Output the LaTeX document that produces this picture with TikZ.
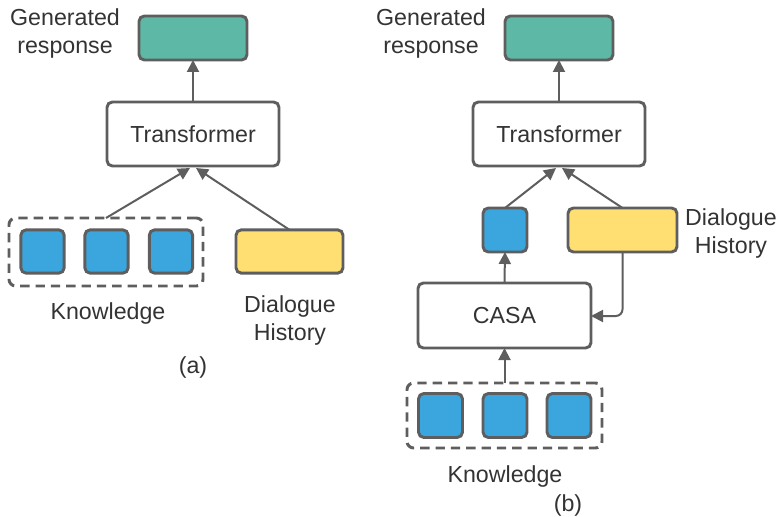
\documentclass[tikz,border=0pt]{standalone}
\usepackage{fontspec}
\setmainfont{Liberation Sans}
\usetikzlibrary{arrows.meta,calc}
\definecolor{lgray}{HTML}{5E5E5E}
\definecolor{tgray}{HTML}{333333}
\definecolor{cblue}{HTML}{3AA6DD}
\definecolor{cyellow}{HTML}{FFDF71}
\definecolor{cteal}{HTML}{5DB9A5}
\tikzset{
  box/.style={draw=lgray, line width=2.2pt, rounded corners=4pt, inner sep=0pt, outer sep=0pt},
  genbox/.style={box, fill=cteal, minimum width=81pt, minimum height=33pt},
  trbox/.style={box, fill=white, minimum width=129pt, minimum height=48pt, font=\fontsize{17.4}{21}\selectfont, text=tgray},
  sq/.style={box, fill=cblue, minimum width=32.5pt, minimum height=32.5pt},
  hist/.style={box, fill=cyellow, minimum height=32.5pt},
  dashbox/.style={draw=lgray, line width=2.2pt, dash pattern=on 7pt off 4.5pt, rounded corners=5pt, inner sep=0pt, outer sep=0pt},
  lbl/.style={font=\fontsize{17.4}{21}\selectfont, text=tgray, align=center, inner sep=0pt},
  conn/.style={draw=lgray, line width=1.5pt, -{Triangle[length=9pt,width=9pt]}},
}
\begin{document}
\begin{tikzpicture}[x=0.75pt,y=-0.75pt]
\useasboundingbox (0,0) rectangle (778,517);
% ---------- panel (a)
\node[genbox] (gena) at (193,38) {};
\node[lbl] (gentxta) at (65,34) {Generated\\response};
\node[trbox] (tra) at (193,134) {Transformer};
\node[dashbox, minimum width=145.5pt, minimum height=51pt] (ka) at (106,252) {};
\node[sq] (ka1) at (42.5,251.5) {};
\node[sq] (ka2) at (106.5,251.5) {};
\node[sq] (ka3) at (171,251.5) {};
\node[hist, minimum width=80.25pt] (dha) at (289.5,251.5) {};
\node[lbl] (kltxta) at (108,313) {Knowledge};
\node[lbl] (dhtxta) at (290,320) {Dialogue\\History};
\node[lbl] (capa) at (193,367) {(a)};
\draw[conn] (tra.north) -- (gena.south);
\draw[conn] (ka.north) -- ($(tra.south)+(-3,2)$);
\draw[conn] (dha.north) -- ($(tra.south)+(3,2)$);
% ---------- panel (b)
\node[genbox] (genb) at (559,38) {};
\node[lbl] (gentxtb) at (431,34) {Generated\\response};
\node[trbox] (trb) at (559,134) {Transformer};
\node[sq, minimum width=33pt, minimum height=33pt] (kc) at (505,230) {};
\node[hist, minimum width=81.75pt, minimum height=33pt] (dhb) at (622.5,230) {};
\node[lbl] (dhtxtb) at (731,234) {Dialogue\\History};
\node[trbox, minimum width=129.75pt, minimum height=48.75pt] (casa) at (504.5,315.5) {CASA};
\node[dashbox, minimum width=146.25pt, minimum height=48.75pt] (kb) at (504.5,415.5) {};
\node[sq, minimum width=33pt, minimum height=33pt] (kb1) at (440.5,415.5) {};
\node[sq, minimum width=33pt, minimum height=33pt] (kb2) at (505,415.5) {};
\node[sq, minimum width=33pt, minimum height=33pt] (kb3) at (569,415.5) {};
\node[lbl] (kltxtb) at (505,476) {Knowledge};
\node[lbl] (capb) at (568,505) {(b)};
\draw[conn] (trb.north) -- (genb.south);
\draw[conn] (kc.north) -- ($(trb.south)+(-3,2)$);
\draw[conn] (dhb.north) -- ($(trb.south)+(3,2)$);
\draw[conn] (casa.north) -- (kc.south);
\draw[conn] (kb.north) -- (casa.south);
\draw[conn, rounded corners=5pt] (dhb.south) |- ($(casa.east)+(0,0.5)$);
\end{tikzpicture}
\end{document}
